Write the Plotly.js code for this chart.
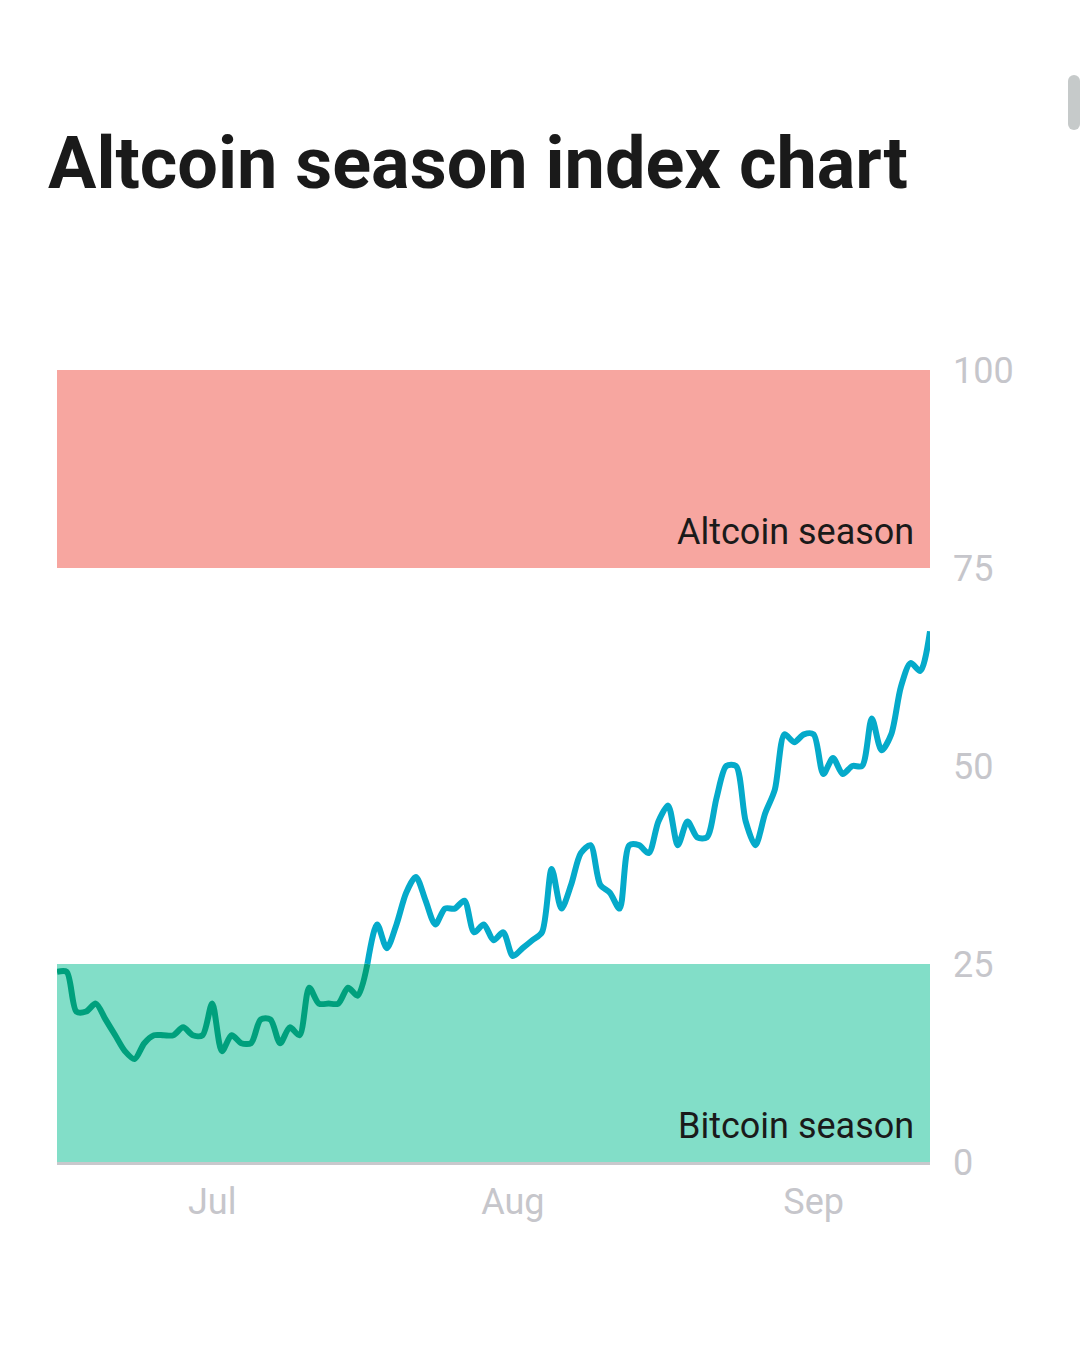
<!DOCTYPE html>
<html>
<head>
<meta charset="utf-8">
<script src="https://cdn.plot.ly/plotly-3.0.1.min.js"></script>
<style>
  html, body { margin: 0; padding: 0; background: #ffffff; overflow: hidden; }
  #chart { width: 1080px; height: 1346px; }
  #scrollbar { position: absolute; left: 1068px; top: 75px; width: 12px; height: 55px; border-radius: 6px; background: #c6caca; }
</style>
</head>
<body>
<div id="chart"></div>
<div id="scrollbar"></div>
<script>
// ---- data ----
const startDate = '2023-06-15';
const indexValues = [24,24,19,19,20,18,16,14,13,15,16,16,16,17,16,16,20,14,16,15,15,18,18,15,17,16,22,20,20,20,22,21,25,30,27,30,34,36,33,30,32,32,33,29,30,28,29,26,27,28,29,37,32,35,39,40,35,34,32,40,40,39,43,45,40,43,41,41,46,50,50,43,40,44,47,54,53,54,54,49,51,49,50,50,56,52,54,60,63,62,67];
const splitIndex = 32; // where the index climbs out of the Bitcoin-season band
const monthTicks = ['2023-07-01', '2023-08-01', '2023-09-01'];
const monthLabels = ['Jul', 'Aug', 'Sep'];
const yTicks = [0, 25, 50, 75, 100];
const seasonBands = [
  { name: 'Altcoin season', from: 75, to: 100, color: '#f7a6a0' },
  { name: 'Bitcoin season', from: 0, to: 25, color: '#82dec8' }
];

// dates for each daily value
const dates = indexValues.map((_, i) => {
  const d = new Date(startDate + 'T00:00:00Z');
  d.setUTCDate(d.getUTCDate() + i);
  return d.toISOString().slice(0, 10);
});

const lowTrace = {
  x: dates.slice(0, splitIndex + 1),
  y: indexValues.slice(0, splitIndex + 1),
  type: 'scatter', mode: 'lines',
  line: { color: '#00a07d', width: 6, shape: 'spline', smoothing: 0.8 },
  hoverinfo: 'skip'
};
const highTrace = {
  x: dates.slice(splitIndex),
  y: indexValues.slice(splitIndex),
  type: 'scatter', mode: 'lines',
  line: { color: '#05aaca', width: 6, shape: 'spline', smoothing: 0.8 },
  hoverinfo: 'skip'
};

const shapes = seasonBands.map(b => ({
  type: 'rect', xref: 'paper', yref: 'y', x0: 0, x1: 1, y0: b.from, y1: b.to,
  fillcolor: b.color, line: { width: 0 }, layer: 'below'
}));

const annotations = [
  { text: seasonBands[0].name, xref: 'paper', yref: 'y', x: 0.984, y: 79.6, xanchor: 'right', yanchor: 'middle', showarrow: false,
    font: { family: 'Roboto', size: 36, color: '#1a1a1a' } },
  { text: seasonBands[1].name, xref: 'paper', yref: 'y', x: 0.984, y: 4.6, xanchor: 'right', yanchor: 'middle', showarrow: false,
    font: { family: 'Roboto', size: 36, color: '#1a1a1a' } }
];

const layout = {
  width: 1080, height: 1346,
  margin: { l: 57, r: 150, t: 370, b: 184, pad: 0 },
  paper_bgcolor: '#ffffff', plot_bgcolor: 'rgba(0,0,0,0)',
  showlegend: false,
  title: {
    text: 'Altcoin season index chart',
    font: { family: 'Roboto', size: 72, weight: 700, color: '#1a1a1a' },
    xref: 'container', yref: 'container', x: 48 / 1080, xanchor: 'left',
    y: 1 - 163 / 1346, yanchor: 'middle'
  },
  xaxis: {
    type: 'date', range: [dates[0], dates[dates.length - 1]],
    tickmode: 'array', tickvals: monthTicks, ticktext: monthLabels,
    showgrid: false, zeroline: false, ticks: '',
    showline: true, linecolor: '#c8c8cc', linewidth: 3,
    tickfont: { family: 'Roboto', size: 36, color: '#c6c6cb' },
    ticklabelstandoff: 6, fixedrange: true
  },
  yaxis: {
    range: [0, 100], side: 'right',
    tickmode: 'array', tickvals: yTicks, ticktext: yTicks.map(String),
    showgrid: false, zeroline: false, ticks: '', showline: false,
    tickfont: { family: 'Roboto', size: 36, color: '#c6c6cb' },
    ticklabelstandoff: 22, fixedrange: true
  },
  shapes: shapes,
  annotations: annotations
};

Plotly.newPlot('chart', [lowTrace, highTrace], layout, { displayModeBar: false, staticPlot: true });
</script>
</body>
</html>
